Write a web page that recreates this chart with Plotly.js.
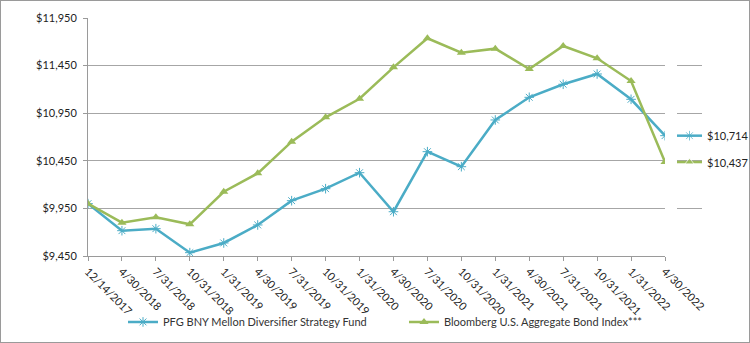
<!DOCTYPE html>
<html><head><meta charset="utf-8">
<script src="https://cdn.plot.ly/plotly-3.0.1.min.js"></script>
<style>body{margin:0}#frame{position:absolute;left:0;top:0;width:750px;height:343px;box-sizing:border-box;border:1px solid #9a9a9a;pointer-events:none}</style>
</head><body>
<div id="chart" style="width:750px;height:343px"></div>
<div id="frame"></div>
<script>
const dates = ["12/14/2017","4/30/2018","7/31/2018","10/31/2018","1/31/2019","4/30/2019","7/31/2019","10/31/2019","1/31/2020","4/30/2020","7/31/2020","10/31/2020","1/31/2021","4/30/2021","7/31/2021","10/31/2021","1/31/2022","4/30/2022"];
const fundName = "PFG BNY Mellon Diversifier Strategy Fund";
const indexName = "Bloomberg U.S. Aggregate Bond Index***";
const fundValues = [10000,9716,9737,9485,9587,9776,10031,10157,10325,9915,10546,10388,10879,11117,11254,11362,11096,10714];
const indexValues = [10000,9800,9856,9783,10125,10318,10651,10907,11102,11432,11737,11586,11628,11414,11656,11527,11288,10437];
const yTicks = [9450,9950,10450,10950,11450,11950];
const fundColor = "#4BACC6", indexColor = "#9BBB59";
const fmt = v => "$" + v.toLocaleString("en-US");
const fundLast = fundValues[fundValues.length-1], indexLast = indexValues[indexValues.length-1];

const traces = [
  {x: dates, y: fundValues, name: fundName, type: "scatter", mode: "lines+markers",
   line: {color: fundColor, width: 2.5}, marker: {symbol: "asterisk-open", size: 8, color: fundColor, line: {color: fundColor, width: 1}}},
  {x: dates, y: indexValues, name: indexName, type: "scatter", mode: "lines+markers",
   line: {color: indexColor, width: 2.5}, marker: {symbol: "triangle-up", size: 8, color: indexColor}},
  {x: [0,1,2], y: [fundLast,fundLast,fundLast], xaxis: "x2", yaxis: "y", showlegend: false, hoverinfo: "skip",
   mode: "lines+markers", line: {color: fundColor, width: 2.5},
   marker: {symbol: "asterisk-open", size: [0,8,0], color: fundColor, line: {color: fundColor, width: 1}}},
  {x: [0,1,2], y: [indexLast,indexLast,indexLast], xaxis: "x2", yaxis: "y", showlegend: false, hoverinfo: "skip",
   mode: "lines+markers", line: {color: indexColor, width: 2.5},
   marker: {symbol: "triangle-up", size: [0,8,0], color: indexColor}}
];

const W = 652;
const layout = {
  width: 750, height: 343,
  margin: {l: 88, r: 10, t: 18, b: 87, autoexpand: false},
  paper_bgcolor: "#fff", plot_bgcolor: "#fff",
  font: {family: "Lato, 'Open Sans', sans-serif", size: 11, color: "#333"},
  showlegend: true,
  xaxis: {type: "category", domain: [0, 577/W], range: [0, dates.length-1], automargin: false,
    showgrid: false, showline: true, linecolor: "#9a9a9a", linewidth: 1,
    ticks: "outside", ticklen: 4, tickcolor: "#9a9a9a", tickangle: 45,
    tickfont: {size: 11, color: "#222"}, fixedrange: true},
  xaxis2: {domain: [(677-88)/W, (702-88)/W], range: [0,2], anchor: "y", visible: false, fixedrange: true},
  yaxis: {range: [9450, 11950], tickvals: yTicks, ticktext: yTicks.map(fmt), automargin: false,
    showgrid: true, gridcolor: "#a6a6a6", gridwidth: 1, zeroline: false,
    showline: true, linecolor: "#9a9a9a", linewidth: 1,
    ticks: "outside", ticklen: 4, tickcolor: "#9a9a9a", ticklabelstandoff: 4,
    tickfont: {size: 11, color: "#222"}, fixedrange: true},
  legend: {orientation: "h", x: (123-88)/W, xanchor: "left", y: -0.277, yanchor: "middle",
    bgcolor: "rgba(0,0,0,0)", entrywidth: 236, entrywidthmode: "pixels",
    font: {size: 11, color: "#333"}, itemwidth: 30, traceorder: "normal"},
  annotations: [
    {xref: "paper", yref: "y", x: (705-88)/W, y: fundLast, text: fmt(fundLast), showarrow: false, xanchor: "left", font: {size: 11, color: "#222"}},
    {xref: "paper", yref: "y", x: (705-88)/W, y: indexLast, text: fmt(indexLast), showarrow: false, xanchor: "left", font: {size: 11, color: "#222"}}
  ]
};
Plotly.newPlot("chart", traces, layout, {displayModeBar: false, staticPlot: true});
</script>
</body></html>
